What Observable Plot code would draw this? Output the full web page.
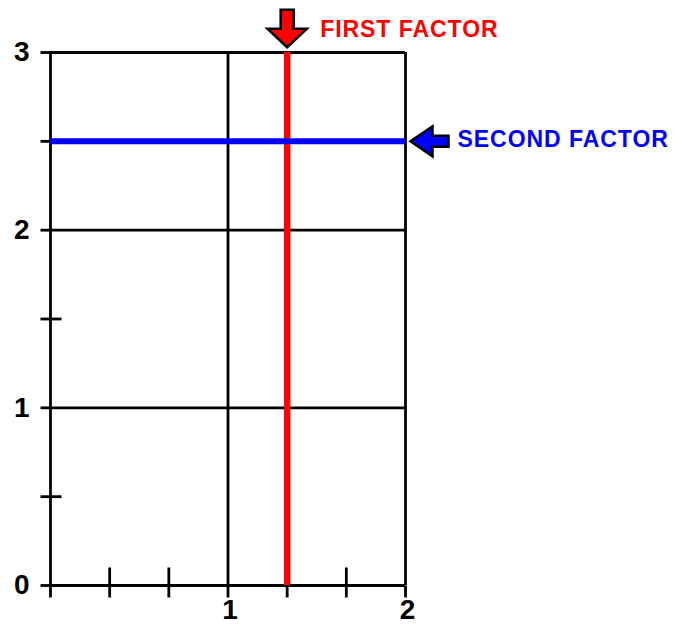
<!DOCTYPE html>
<html><head><meta charset="utf-8">
<script src="https://cdn.jsdelivr.net/npm/d3@7"></script>
<script src="https://cdn.jsdelivr.net/npm/@observablehq/plot@0.6"></script>
<style>
body{margin:0;background:#fff}
</style>
</head><body><div id="chart"></div>
<script>
const xMajor = [0, 1, 2];
const yMajor = [0, 1, 2, 3];
const xMinor = [1/3, 2/3, 4/3, 5/3];
const yMinor = [0.5, 1.5, 2.5];
const xTickLabels = [1, 2];
const yTickLabels = [0, 1, 2, 3];
const firstFactor = [4/3];
const secondFactor = [2.5];
const firstLabel = ["FIRST FACTOR"];
const secondLabel = ["SECOND FACTOR"];

const xMin = d3.min(xMajor), xMax = d3.max(xMajor);
const yMin = d3.min(yMajor), yMax = d3.max(yMajor);

const sym = (f) => ({draw(c) { f(c); }});
const tickUpDown = sym(c => { c.moveTo(0, -18); c.lineTo(0, 12); });
const tickDown = sym(c => { c.moveTo(0, 0); c.lineTo(0, 12); });
const tickLeft = sym(c => { c.moveTo(0, 0); c.lineTo(-10, 0); });
const tickLeftRight = sym(c => { c.moveTo(-10, 0); c.lineTo(11, 0); });
const arrowDown = sym(c => {
  c.moveTo(-6.5, -42.7); c.lineTo(6.5, -42.7); c.lineTo(6.5, -23.7); c.lineTo(19.7, -23.7);
  c.lineTo(0, -5.3); c.lineTo(-19.7, -23.7); c.lineTo(-6.5, -23.7); c.closePath();
});
const arrowLeft = sym(c => {
  c.moveTo(5, 0); c.lineTo(27, -15); c.lineTo(27, -5.5); c.lineTo(43, -5.5);
  c.lineTo(43, 5.5); c.lineTo(27, 5.5); c.lineTo(27, 15); c.closePath();
});

const font = "Liberation Sans, Arial, sans-serif";
const sw = 2.8;

const chart = Plot.plot({
  width: 691, height: 624,
  marginLeft: 50, marginRight: 286, marginTop: 52, marginBottom: 39,
  x: {domain: [xMin, xMax], axis: null},
  y: {domain: [yMin, yMax], axis: null},
  marks: [
    Plot.ruleX(xMajor, {x: d => d, y1: () => yMin, y2: () => yMax, stroke: "black", strokeWidth: sw}),
    Plot.ruleY(yMajor, {y: d => d, x1: () => xMin, x2: () => xMax, stroke: "black", strokeWidth: sw}),
    Plot.dot(xMinor, {x: d => d, y: () => yMin, symbol: tickUpDown, stroke: "black", strokeWidth: sw, fill: "none"}),
    Plot.dot(xMajor, {x: d => d, y: () => yMin, symbol: tickDown, stroke: "black", strokeWidth: sw, fill: "none"}),
    Plot.dot(yMajor, {y: d => d, x: () => xMin, symbol: tickLeft, stroke: "black", strokeWidth: sw, fill: "none"}),
    Plot.dot(yMinor, {y: d => d, x: () => xMin, symbol: tickLeftRight, stroke: "black", strokeWidth: sw, fill: "none"}),
    Plot.ruleX(firstFactor, {x: d => d, y1: () => yMin, y2: () => yMax, stroke: "#ff0000", strokeWidth: 6.5}),
    Plot.ruleY(secondFactor, {y: d => d, x1: () => xMin, x2: () => xMax, stroke: "#0000ff", strokeWidth: 6}),
    Plot.dot(firstFactor, {x: d => d, y: () => yMax, symbol: arrowDown, fill: "#ff0000", stroke: "black", strokeWidth: 2.5, strokeLinejoin: "miter"}),
    Plot.dot(secondFactor, {y: d => d, x: () => xMax, symbol: arrowLeft, fill: "#0000ff", stroke: "black", strokeWidth: 2.5, strokeLinejoin: "miter"}),
    Plot.text(xTickLabels, {x: d => d, y: () => yMin, text: d => String(d), dy: 25, dx: 2, fontSize: 28, fontWeight: "bold", fontFamily: font, fill: "black"}),
    Plot.text(yTickLabels, {y: d => d, x: () => xMin, text: d => String(d), dx: -21, textAnchor: "end", fontSize: 28, fontWeight: "bold", fontFamily: font, fill: "black"}),
    Plot.text(firstLabel, {x: () => firstFactor[0], y: () => yMax, text: d => d, dx: 33, dy: -23, textAnchor: "start", fontSize: 23, fontWeight: "bold", fontFamily: font, fill: "#ff0000"}),
    Plot.text(secondLabel, {x: () => xMax, y: () => secondFactor[0], text: d => d, dx: 52, dy: -1.5, textAnchor: "start", fontSize: 23, fontWeight: "bold", fontFamily: font, fill: "#0000ff"})
  ]
});
const labels = new Set([...firstLabel, ...secondLabel]);
d3.select(chart).selectAll("text")
  .filter(function() { return labels.has(this.textContent); })
  .style("letter-spacing", "0.95px");
document.getElementById("chart").appendChild(chart);
</script>
</body></html>
